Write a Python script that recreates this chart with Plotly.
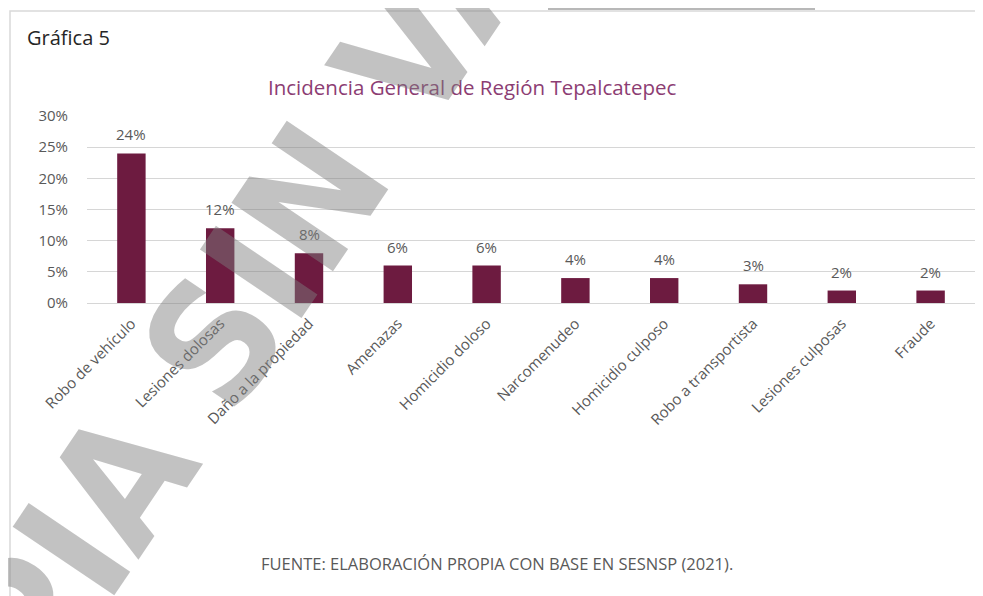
import plotly.graph_objects as go

categories = ["Robo de vehículo", "Lesiones dolosas", "Daño a la propiedad", "Amenazas",
              "Homicidio doloso", "Narcomenudeo", "Homicidio culposo", "Robo a transportista",
              "Lesiones culposas", "Fraude"]
values = [0.24, 0.12, 0.08, 0.06, 0.06, 0.04, 0.04, 0.03, 0.02, 0.02]
y_ticks = [0, 0.05, 0.10, 0.15, 0.20, 0.25, 0.30]

# page has an 8px body margin -> figure drawn from screen (8, 8)
OFF = 8
W, H = 983 - OFF, 596 - OFF
PL, PR, PT, PB = 87, 975, 116, 303          # plot area in screen pixels
L, R, T, B = PL - OFF, W - (PR - OFF), PT - OFF, H - (PB - OFF)
PW, PH = PR - PL, PB - PT

def px(x):
    return (x - PL) / PW

def py(y):
    return (PB - y) / PH

fig = go.Figure()
fig.add_trace(go.Bar(
    x=categories, y=values,
    marker=dict(color="#6D1B40", line=dict(width=0)),
    width=0.32,
    hoverinfo="x+y",
))

fig.update_layout(
    width=W, height=H,
    margin=dict(l=L, r=R, t=T, b=B, autoexpand=False),
    paper_bgcolor="white", plot_bgcolor="white",
    showlegend=False,
    xaxis=dict(
        tickangle=-45,
        tickfont=dict(family="Open Sans", size=15, color="#595959"),
        showgrid=False, showline=False, ticks="", ticklabelstandoff=8,
    ),
    yaxis=dict(
        range=[0, 0.30], tickvals=y_ticks, tickformat=".0%",
        tickfont=dict(family="Open Sans", size=15, color="#595959"),
        showgrid=True, gridcolor="#D6D6D6", gridwidth=1,
        zeroline=True, zerolinecolor="#D6D6D6", zerolinewidth=1,
        showline=False, ticks="", ticklabelstandoff=18,
    ),
)

# chart frame
fig.add_shape(type="rect", xref="paper", yref="paper",
              x0=px(10), x1=px(1010), y0=py(620), y1=py(11),
              line=dict(color="#D9D9D9", width=1.5), fillcolor="rgba(0,0,0,0)", layer="below")
fig.add_shape(type="line", xref="paper", yref="paper",
              x0=px(548), x1=px(815), y0=py(9), y1=py(9),
              line=dict(color="#A0A0A0", width=1.5))

annotations = []
# data labels
for c, v in zip(categories, values):
    annotations.append(dict(
        x=c, y=v, xref="x", yref="y", text=f"{v:.0%}", showarrow=False,
        yanchor="middle", yshift=19,
        font=dict(family="Open Sans", size=15, color="#595959")))

texts = [
    dict(text="Gráfica 5", x=px(25), y=py(37), xanchor="left", yanchor="middle",
         font=dict(family="Open Sans", size=20, color="#262626")),
    dict(text="Incidencia General de Región Tepalcatepec", x=px(472), y=py(87),
         xanchor="center", yanchor="middle",
         font=dict(family="Open Sans", size=20.5, color="#8C3D73")),
    dict(text="FUENTE: ELABORACIÓN PROPIA CON BASE EN SESNSP (2021).", x=px(497), y=py(563),
         xanchor="center", yanchor="middle",
         font=dict(family="Open Sans", size=16.5, color="#595959")),
    dict(text="<b>COPIA SIN VALOR</b>", x=px(276), y=py(252), xanchor="center", yanchor="middle",
         textangle=-56,
         font=dict(family="DejaVu Sans Condensed", size=168, color="rgba(125,125,125,0.47)")),
]
for a in texts:
    a.update(xref="paper", yref="paper", showarrow=False)
annotations += texts
fig.update_layout(annotations=annotations)

fig.write_html("out.html")
